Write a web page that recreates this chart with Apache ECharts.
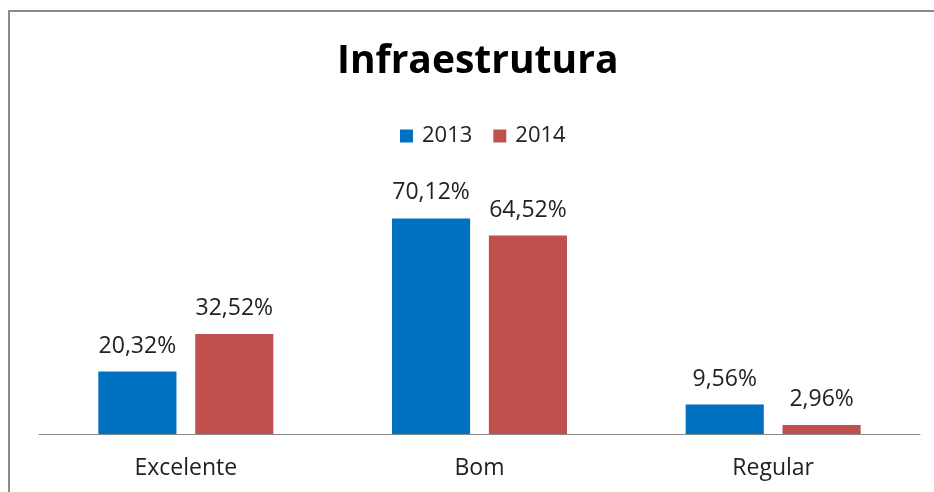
<!DOCTYPE html>
<html>
<head>
<meta charset="utf-8">
<script src="https://cdn.jsdelivr.net/npm/echarts@6/dist/echarts.min.js"></script>
<style>
  html, body { margin: 0; padding: 0; background: #fff; }
  #chart { width: 934px; height: 492px; }
</style>
</head>
<body>
<div id="chart"></div>
<script>
// dados
var categorias = ['Excelente', 'Bom', 'Regular'];
var anos = ['2013', '2014'];
var valores2013 = [20.32, 70.12, 9.56];
var valores2014 = [32.52, 64.52, 2.96];
var cores = ['#0070C0', '#C0504D'];

var fonte = '"Open Sans", Lato, sans-serif';

function rotulo(p) {
    return p.value.toFixed(2).replace('.', ',') + '%';
}

var chart = echarts.init(document.getElementById('chart'));

var series = [valores2013, valores2014].map(function (dados, i) {
    return {
        name: anos[i],
        type: 'bar',
        data: dados,
        barGap: '24%',
        barCategoryGap: '40.4%',
        itemStyle: { color: cores[i] },
        label: {
            show: true,
            position: 'top',
            distance: 14,
            formatter: rotulo,
            color: '#222',
            fontSize: 23,
            fontFamily: fonte
        }
    };
});

chart.setOption({
    animation: false,
    backgroundColor: '#fff',
    graphic: [{
        type: 'rect',
        shape: { x: 9, y: 11, width: 940, height: 500 },
        style: { fill: 'none', stroke: '#8a8a8a', lineWidth: 2 },
        silent: true
    }],
    title: {
        text: 'Infraestrutura',
        left: 337,
        top: 42,
        padding: 0,
        textStyle: { fontSize: 39, fontWeight: 'bold', color: '#000', fontFamily: fonte }
    },
    legend: {
        data: anos,
        top: 125,
        left: 400,
        padding: 0,
        icon: 'rect',
        itemWidth: 13,
        itemHeight: 13,
        itemGap: 21,
        textStyle: { fontSize: 22, color: '#222', fontFamily: fonte, padding: [0, 0, 0, 4] }
    },
    grid: { left: 39, right: 14, top: 188, bottom: 58, containLabel: false },
    xAxis: {
        type: 'category',
        data: categorias,
        axisLine: { lineStyle: { color: '#888', width: 1 } },
        axisTick: { show: false },
        axisLabel: { fontSize: 23, color: '#222', margin: 23, fontFamily: fonte }
    },
    yAxis: {
        type: 'value',
        min: 0,
        max: 80,
        show: false,
        splitLine: { show: false }
    },
    series: series
});
</script>
</body>
</html>
